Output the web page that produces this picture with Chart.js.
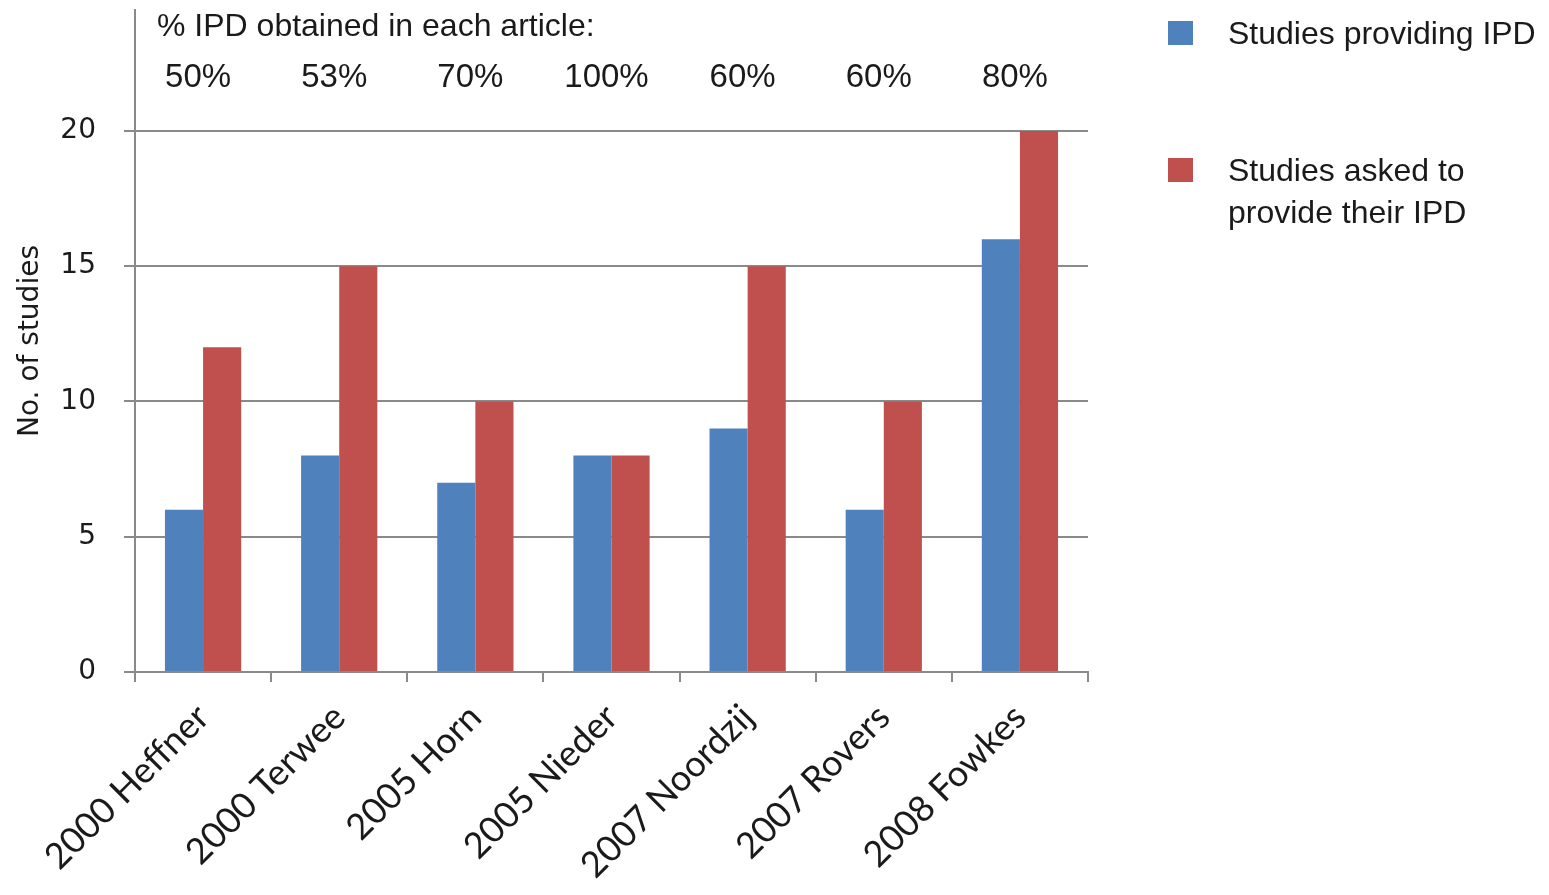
<!DOCTYPE html>
<html>
<head>
<meta charset="utf-8">
<script src="https://cdn.jsdelivr.net/npm/chart.js@4/dist/chart.umd.min.js"></script>
<style>
  html, body { margin: 0; padding: 0; background: #ffffff; }
  #wrap { position: relative; width: 1549px; height: 895px; }
  #legend { position: absolute; left: 1168px; top: 12px; font-family: "Liberation Sans", Arial, sans-serif; font-size: 32px; color: #1a1a1a; }
  .legend-item { position: absolute; padding-left: 60px; line-height: 42px; white-space: nowrap; }
  .legend-box { position: absolute; left: 0; top: 9px; width: 25px; height: 24px; }
</style>
</head>
<body>
<div id="wrap">
  <canvas id="chart" width="1549" height="895"></canvas>
  <div id="legend"></div>
</div>
<script>
// Chart data
const categories = ['2000 Heffner', '2000 Terwee', '2005 Horn', '2005 Nieder', '2007 Noordzij', '2007 Rovers', '2008 Fowkes'];
const providingIPD = [6, 8, 7, 8, 9, 6, 16];
const askedIPD = [12, 15, 10, 8, 15, 10, 20];
const percentObtained = ['50%', '53%', '70%', '100%', '60%', '60%', '80%'];
const yTicks = [0, 5, 10, 15, 20];

const headerText = '% IPD obtained in each article:';
const blue = '#4f81bd';
const red = '#c0504d';
const gridColor = '#8a8a8a';

/**
 * Draw the "% IPD obtained" header above the bars
 */
const percentPlugin = {
  id: 'percentLabels',
  afterDraw(chart) {
    const { ctx, chartArea, scales } = chart;
    ctx.save();
    ctx.fillStyle = '#1a1a1a';
    ctx.textBaseline = 'middle';
    ctx.font = '32px "Liberation Sans", Arial, sans-serif';
    ctx.textAlign = 'left';
    ctx.fillText(headerText, chartArea.left + 22, scales.y.getPixelForValue(23.85));

    ctx.textAlign = 'center';
    ctx.font = '33px "Liberation Sans", Arial, sans-serif';
    percentObtained.forEach((txt, i) => {
      ctx.fillText(txt, scales.x.getPixelForValue(i) - 5, scales.y.getPixelForValue(21.95));
    });
    ctx.restore();
  },
};

const chart = new Chart(document.getElementById('chart'), {
  type: 'bar',
  data: {
    labels: categories,
    datasets: [
      {
        label: 'Studies providing IPD',
        data: providingIPD,
        backgroundColor: blue,
        barPercentage: 1,
        categoryPercentage: 0.56,
      },
      {
        label: 'Studies asked to\nprovide their IPD',
        data: askedIPD,
        backgroundColor: red,
        barPercentage: 1,
        categoryPercentage: 0.56,
      },
    ],
  },
  options: {
    responsive: false,
    animation: false,
    layout: { padding: { top: 10, right: 461, bottom: 0, left: 0 } },
    plugins: {
      legend: { display: false },
      tooltip: { enabled: false },
    },
    scales: {
      x: {
        grid: {
          offset: true,
          drawOnChartArea: false,
          drawTicks: true,
          tickLength: 10,
          color: gridColor,
          lineWidth: 2,
        },
        border: { color: gridColor, width: 2 },
        ticks: {
          minRotation: 45,
          maxRotation: 45,
          padding: 14,
          color: '#1a1a1a',
          font: { family: 'Lato, "Open Sans", sans-serif', size: 36 },
        },
        afterFit(scale) {
          scale.height = 223;
          scale.paddingLeft = 0;
          scale.paddingRight = 0;
        },
      },
      y: {
        min: 0,
        max: 24.47,
        afterBuildTicks(scale) {
          scale.ticks = yTicks.map((v) => ({ value: v }));
        },
        grid: {
          color: gridColor,
          lineWidth: 2,
          drawTicks: true,
          tickLength: 11,
        },
        border: { color: gridColor, width: 2 },
        ticks: {
          padding: 28,
          color: '#1a1a1a',
          font: { family: '"DejaVu Sans", Verdana, sans-serif', size: 28 },
        },
        title: {
          display: true,
          text: 'No. of studies',
          color: '#1a1a1a',
          padding: { top: 14, bottom: 0 },
          font: { family: '"DejaVu Sans", Verdana, sans-serif', size: 28 },
        },
        afterFit(scale) {
          scale.width = 135;
          scale.paddingTop = 0;
          scale.paddingBottom = 0;
        },
      },
    },
  },
  plugins: [percentPlugin],
});

// Build HTML legend from the datasets
const legendEl = document.getElementById('legend');
const legendTops = [0, 137];
chart.data.datasets.forEach((ds, i) => {
  const item = document.createElement('div');
  item.className = 'legend-item';
  item.style.top = legendTops[i] + 'px';
  item.innerHTML = `<span class="legend-box" style="background:${ds.backgroundColor}"></span>${ds.label.replace('\n', '<br>')}`;
  legendEl.appendChild(item);
});
</script>
</body>
</html>
